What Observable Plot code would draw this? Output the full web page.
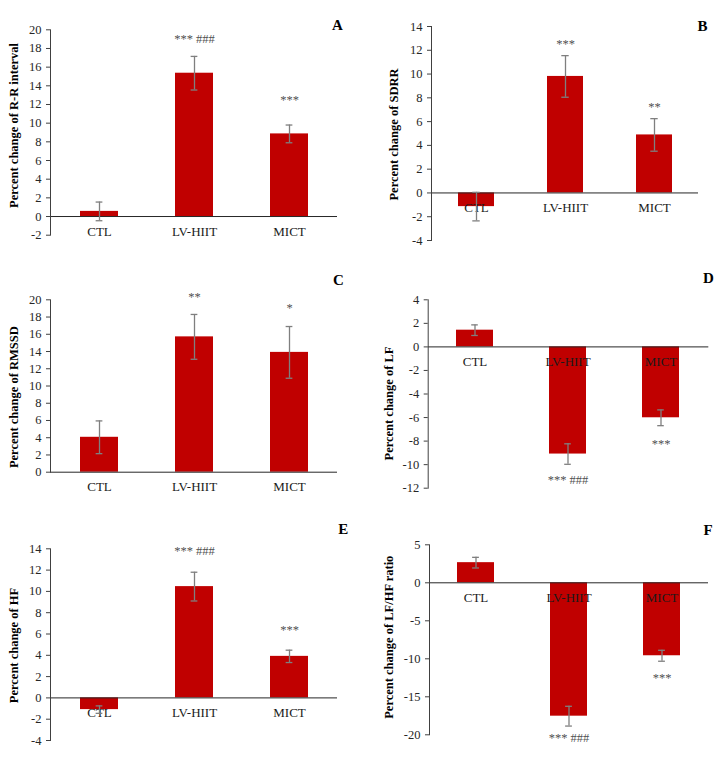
<!DOCTYPE html>
<html>
<head>
<meta charset="utf-8">
<script src="https://cdn.jsdelivr.net/npm/d3@7"></script>
<script src="https://cdn.jsdelivr.net/npm/@observablehq/plot@0.6"></script>
<style>
  html, body { margin: 0; padding: 0; background: #fff; }
  #root { position: relative; width: 720px; height: 761px; overflow: hidden; }
  .panel { position: absolute; }
</style>
</head>
<body>
<div id="root"></div>
<script>
// ---------- data ----------
const categories = ["CTL", "LV-HIIT", "MICT"];

const rrMean = [0.55, 15.35, 8.85];
const rrErr = [1.0, 1.8, 0.95];
const rrSig = ["", "*** ###", "***"];
const rrSigY = [null, 18.97, 12.43];
const rrTicks = [-2, 0, 2, 4, 6, 8, 10, 12, 14, 16, 18, 20];

const sdrrMean = [-1.15, 9.8, 4.88];
const sdrrErr = [1.2, 1.75, 1.37];
const sdrrSig = ["", "***", "**"];
const sdrrSigY = [null, 12.57, 7.26];
const sdrrTicks = [-4, -2, 0, 2, 4, 6, 8, 10, 12, 14];

const rmssdMean = [4.05, 15.7, 13.9];
const rmssdErr = [1.9, 2.6, 3.0];
const rmssdSig = ["", "**", "*"];
const rmssdSigY = [null, 20.38, 19.03];
const rmssdTicks = [0, 2, 4, 6, 8, 10, 12, 14, 16, 18, 20];

const lfMean = [1.42, -9.1, -6.02];
const lfErr = [0.45, 0.87, 0.67];
const lfSig = ["", "*** ###", "***"];
const lfSigY = [null, -11.34, -8.23];
const lfTicks = [-12, -10, -8, -6, -4, -2, 0, 2, 4];

const hfMean = [-1.1, 10.45, 3.9];
const hfErr = [0.35, 1.35, 0.58];
const hfSig = ["", "*** ###", "***"];
const hfSigY = [null, 13.84, 6.42];
const hfTicks = [-4, -2, 0, 2, 4, 6, 8, 10, 12, 14];

const ratioMean = [2.65, -17.55, -9.6];
const ratioErr = [0.7, 1.3, 0.72];
const ratioSig = ["", "*** ###", "***"];
const ratioSigY = [null, -20.39, -12.5];
const ratioTicks = [-20, -15, -10, -5, 0, 5];

const panelLetters = ["A", "B", "C", "D", "E", "F"];
const yLabels = [
  "Percent change of R-R interval",
  "Percent change of SDRR",
  "Percent change of RMSSD",
  "Percent change of LF",
  "Percent change of HF",
  "Percent change of LF/HF ratio"
];

// ---------- layout (pixels) ----------
const layouts = [
  {left: 0,   top: 0,   w: 360, h: 255, ml: 50,   r: 337,   tpx: 29.3, bpx: 234.7, lx: 13,  ly: 125,   letX: 337,   letY: 25},
  {left: 360, top: 0,   w: 360, h: 255, ml: 71,   r: 338,   tpx: 26,   bpx: 240,   lx: 33,  ly: 134,   letX: 342,   letY: 26},
  {left: 0,   top: 260, w: 360, h: 245, ml: 50,   r: 337,   tpx: 39.3, bpx: 211.7, lx: 13,  ly: 136.7, letX: 338,   letY: 19.3},
  {left: 360, top: 260, w: 360, h: 245, ml: 67.7, r: 348.3, tpx: 39.3, bpx: 227.7, lx: 28,  ly: 143,   letX: 348,   letY: 17.3},
  {left: 0,   top: 505, w: 360, h: 256, ml: 50,   r: 337,   tpx: 43.3, bpx: 235,   lx: 13,  ly: 140,   letX: 342.7, letY: 24},
  {left: 360, top: 505, w: 360, h: 256, ml: 69,   r: 348,   tpx: 39.3, bpx: 229.3, lx: 28,  ly: 131.7, letX: 347.7, letY: 25}
];

const panels = [
  {mean: rrMean, err: rrErr, sig: rrSig, sigY: rrSigY, ticks: rrTicks},
  {mean: sdrrMean, err: sdrrErr, sig: sdrrSig, sigY: sdrrSigY, ticks: sdrrTicks},
  {mean: rmssdMean, err: rmssdErr, sig: rmssdSig, sigY: rmssdSigY, ticks: rmssdTicks},
  {mean: lfMean, err: lfErr, sig: lfSig, sigY: lfSigY, ticks: lfTicks},
  {mean: hfMean, err: hfErr, sig: hfSig, sigY: hfSigY, ticks: hfTicks},
  {mean: ratioMean, err: ratioErr, sig: ratioSig, sigY: ratioSigY, ticks: ratioTicks}
];

const FONT = "'Liberation Serif', 'Times New Roman', serif";
const BAR = "#c00000";
const ERR = "#7f7f7f";
const INK = "#404040";

const root = document.getElementById("root");

panels.forEach((p, i) => {
  const L = layouts[i];
  const rows = categories.map((c, j) => ({cat: c, v: p.mean[j], e: p.err[j], s: p.sig[j], sy: p.sigY[j]}));
  const sigRows = rows.filter(d => d.s);
  const yMin = d3.min(p.ticks), yMax = d3.max(p.ticks);
  const mr = L.w - L.r;
  const bw = (L.r - L.ml) / 3 * 0.4;
  const capInset = (bw - 7) / 2;
  const frameMidY = L.tpx + (L.bpx - L.tpx) / 2;

  const chart = Plot.plot({
    width: L.w,
    height: L.h,
    marginLeft: L.ml,
    marginRight: mr,
    marginTop: L.tpx,
    marginBottom: L.h - L.bpx,
    style: {fontFamily: FONT, fontSize: "12px", color: INK, background: "transparent", overflow: "visible"},
    x: {domain: categories, paddingInner: 0.6, paddingOuter: 0.3, axis: null},
    y: {domain: [yMin, yMax]},
    marks: [
      Plot.barY(rows, {x: "cat", y: "v", fill: BAR}),
      Plot.ruleY([0], {stroke: "#262626", strokeWidth: 1}),
      Plot.frame({anchor: "left", stroke: INK, strokeWidth: 1}),
      Plot.axisY({
        ticks: p.ticks, tickSize: 4, tickFormat: d => String(d),
        label: null, fill: "#262626", stroke: INK, fontSize: 12.5
      }),
      Plot.text(categories, {
        x: d => d, y: () => 0, dy: 15,
        fill: "#1a1a1a", fontSize: 13, fontFamily: FONT
      }),
      Plot.ruleX(rows, {x: "cat", y1: d => d.v - d.e, y2: d => d.v + d.e, stroke: ERR, strokeWidth: 1.3}),
      Plot.tickY(rows, {x: "cat", y: d => d.v + d.e, stroke: ERR, strokeWidth: 1.3, insetLeft: capInset, insetRight: capInset}),
      Plot.tickY(rows, {x: "cat", y: d => d.v - d.e, stroke: ERR, strokeWidth: 1.3, insetLeft: capInset, insetRight: capInset}),
      Plot.text(sigRows, {x: "cat", y: "sy", text: "s", fill: "#505050", fontSize: 12.5, fontFamily: FONT}),
      Plot.text([yLabels[i]], {
        frameAnchor: "left", rotate: -90,
        textAnchor: "middle", lineAnchor: "middle",
        dx: L.lx - L.ml, dy: L.ly - frameMidY,
        fontWeight: "bold", fontSize: 12.5, fill: "#000", fontFamily: FONT
      }),
      Plot.text([panelLetters[i]], {
        frameAnchor: "top-left",
        textAnchor: "middle", lineAnchor: "middle",
        dx: L.letX - L.ml, dy: L.letY - L.tpx,
        fontWeight: "bold", fontSize: 15, fill: "#000", fontFamily: FONT
      })
    ]
  });

  const div = document.createElement("div");
  div.className = "panel";
  div.style.left = L.left + "px";
  div.style.top = L.top + "px";
  div.appendChild(chart);
  root.appendChild(div);
});
</script>
</body>
</html>
